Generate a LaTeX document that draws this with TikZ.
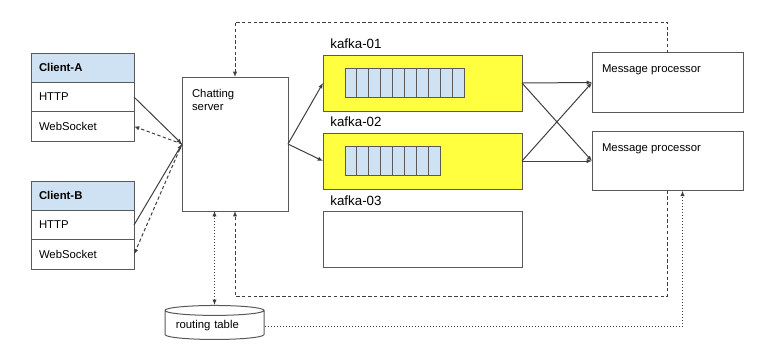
\documentclass[tikz,border=0pt]{standalone}
\usepackage{fontspec}
\setmainfont{Liberation Sans}
\usetikzlibrary{positioning,arrows.meta,shapes.geometric,calc}
\definecolor{hdrblue}{HTML}{CFE2F3}
\definecolor{kyellow}{HTML}{FFFF40}
\definecolor{edgegray}{HTML}{595959}
\definecolor{linegray}{HTML}{3F3F3F}

\begin{document}
\begin{tikzpicture}[x=0.75pt,y=-0.75pt,>={Latex[length=4pt,width=3.2pt]},
  every node/.style={font=\fontsize{8.5}{10}\selectfont},
  box/.style={draw=edgegray,line width=0.75pt,fill=white,inner sep=0pt,outer sep=0pt},
  row/.style={box,minimum width=77.25pt,minimum height=22pt,text width=65.25pt,
    inner xsep=6pt,align=left},
  hdr/.style={row,fill=hdrblue,font=\fontsize{8.5}{10}\selectfont\bfseries},
  kbox/.style={box,fill=kyellow,minimum width=149.25pt,minimum height=42pt},
  cell/.style={box,fill=hdrblue,minimum width=8.93pt,minimum height=21.75pt},
  proc/.style={box,minimum width=113.25pt,minimum height=44.5pt,
    label={[anchor=north west,xshift=4pt,yshift=-5.5pt]north west:Message processor}},
  klabel/.style={label={[anchor=south west,font=\fontsize{10}{12}\selectfont,
    xshift=2pt,yshift=1pt]north west:#1}},
  conn/.style={draw=linegray,line width=0.75pt},
  dashline/.style={dash pattern=on 2.5pt off 1.8pt},
  dotline/.style={dash pattern=on 0.75pt off 1.5pt}]
\useasboundingbox (0,0) rectangle (762,358);

% clients
\node[hdr] (ca) at (82.5,67.7) {Client-A};
\node[row,below=0pt of ca] (cahttp) {HTTP};
\node[row,below=0pt of cahttp] (caws) {WebSocket};
\node[hdr] (cb) at (82.5,195.7) {Client-B};
\node[row,below=0pt of cb] (cbhttp) {HTTP};
\node[row,below=0pt of cbhttp] (cbws) {WebSocket};

% chatting server
\node[box,minimum width=79.5pt,minimum height=100.5pt,
  label={[anchor=north west,align=left,xshift=4pt,yshift=-5.4pt]north west:Chatting\\server}]
  (chat) at (235,144) {};

% kafka brokers
\node[kbox,klabel=kafka-01] (k1) at (422.5,83) {};
\node[kbox,klabel=kafka-02] (k2) at (422.5,161) {};
\node[kbox,fill=white,klabel=kafka-03] (k3) at (422.5,239.5) {};
\foreach \i in {0,...,9}
  \node[cell] (qa\i) at (350.95+11.9*\i,82.5) {};
\foreach \i in {0,...,7}
  \node[cell] (qb\i) at (350.95+11.9*\i,161) {};

% processors
\node[proc] (mp1) at (667.5,82.5) {};
\node[proc] (mp2) at (667.5,161) {};

% routing table
\node[cylinder,shape border rotate=90,draw=edgegray,line width=0.75pt,aspect=0.12,
  minimum width=74.25pt,minimum height=25.5pt,text width=58pt,align=left,inner sep=2pt]
  (rt) at (214.5,326) {routing table};

\coordinate (topline) at (0,22);
\coordinate (botline) at (0,296);
\coordinate (mpin) at ($(mp2.south)+(15,0)$);

\draw[conn,->] (cahttp.east) -- (chat.west);
\draw[conn,dashline,->] (chat.west) -- (caws.east);
\draw[conn,->] (cbhttp.east) -- (chat.west);
\draw[conn,dashline,->] (chat.west) -- (cbws.east);
\draw[conn,->] (chat.east) -- (k1.west);
\draw[conn,->] (chat.east) -- (k2.west);
\draw[conn,->] (k1.east) -- (mp1.west);
\draw[conn,->] (k1.east) -- (mp2.west);
\draw[conn,->] (k2.east) -- (mp1.west);
\draw[conn,->] (k2.east) -- (mp2.west);
\draw[conn,dashline,->] (mp1.north) -- (mp1.north |- topline) -| (chat.north);
\draw[conn,dashline,->] (mp2.south) -- (mp2.south |- botline) -| (chat.south);
\draw[conn,dotline,->] (rt.east) -| (mpin);
\draw[conn,dotline,<->] (rt.north) -- (rt.north |- chat.south);
\end{tikzpicture}
\end{document}
